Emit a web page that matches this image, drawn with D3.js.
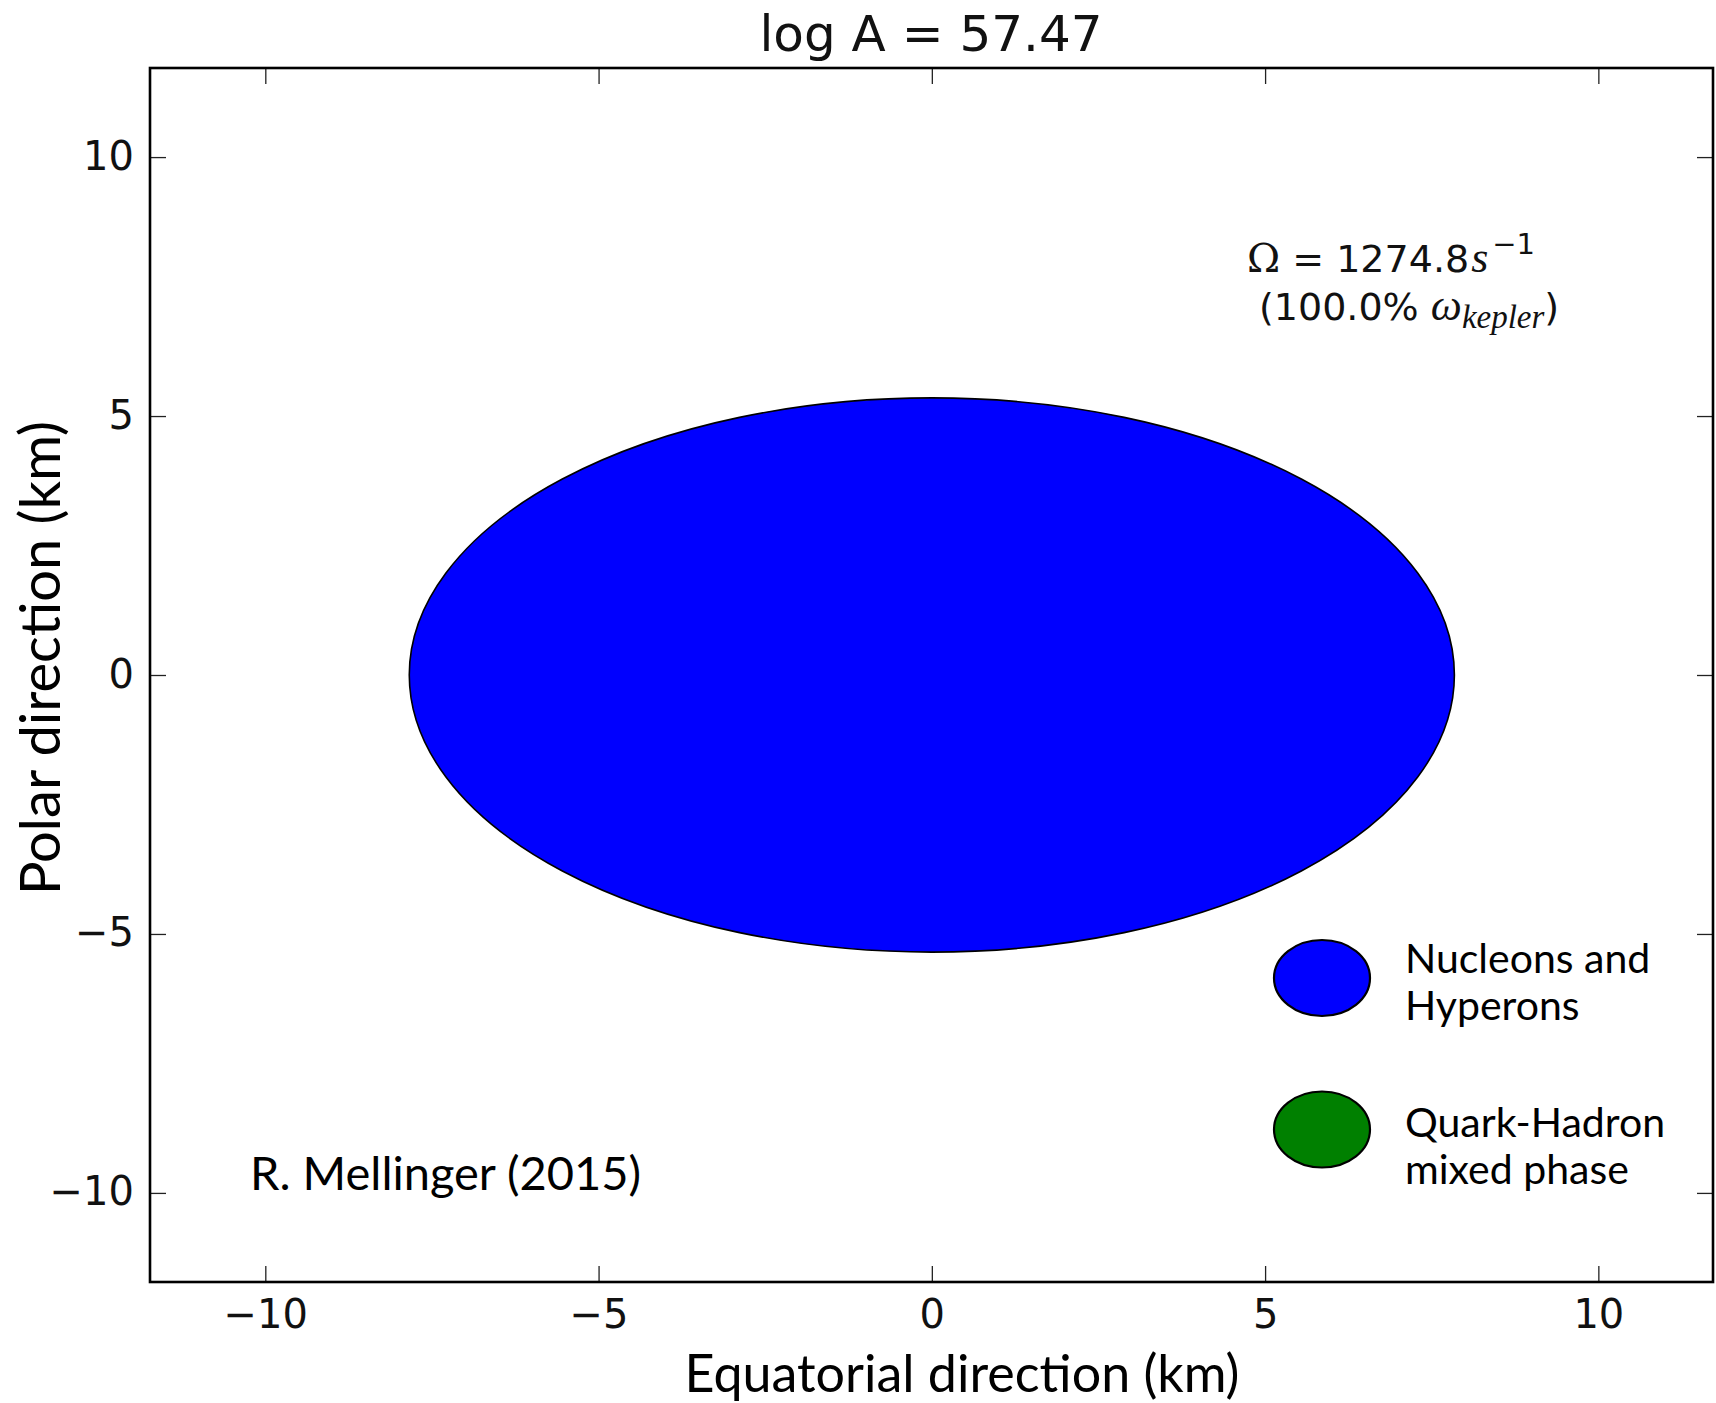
<!DOCTYPE html>
<html>
<head>
<meta charset="utf-8">
<script src="https://cdn.jsdelivr.net/npm/d3@7"></script>
<style>
  html, body { margin: 0; padding: 0; background: #fff; }
  svg { display: block; }
</style>
</head>
<body>
<svg id="chart" width="1716" height="1403"></svg>
<script>
// Star cross-section: equatorial and polar radii (km)
const phases = ["Nucleons and Hyperons"];
const equatorialRadius = [7.84];
const polarRadius = [5.35];
const phaseColors = ["#0000ff"];

// Legend entries
const legendLabels = [["Nucleons and", "Hyperons"], ["Quark-Hadron", "mixed phase"]];
const legendColors = ["#0000ff", "#008000"];

// Axis ticks and ranges (km)
const xTicks = [-10, -5, 0, 5, 10];
const yTicks = [-10, -5, 0, 5, 10];
const xDomain = [-11.73, 11.72];
const yDomain = [-11.72, 11.72];

// Annotations
const titleText = "log A = 57.47";
const omegaValue = "1274.8";
const keplerPercent = "100.0%";
const creditText = "R. Mellinger (2015)";

const svg = d3.select("#chart");
const plot = { left: 150, right: 1713, top: 68, bottom: 1282 };

const x = d3.scaleLinear().domain(xDomain).range([plot.left, plot.right]);
const y = d3.scaleLinear().domain(yDomain).range([plot.bottom, plot.top]);

const tickFont = "'DejaVu Sans', sans-serif";
const labelFont = "Lato, 'Open Sans', sans-serif";
const fmt = d => d < 0 ? "\u2212" + Math.abs(d) : String(d);

// Star shape
svg.append("g").selectAll("ellipse")
  .data(phases)
  .join("ellipse")
  .attr("cx", x(0))
  .attr("cy", y(0))
  .attr("rx", (d, i) => x(equatorialRadius[i]) - x(0))
  .attr("ry", (d, i) => y(0) - y(polarRadius[i]))
  .attr("fill", (d, i) => phaseColors[i])
  .attr("stroke", "#000")
  .attr("stroke-width", 1.6);

// Axes with inward ticks on all four sides
function styleAxis(g) {
  g.select(".domain").remove();
  g.selectAll(".tick line").attr("stroke", "#222").attr("stroke-width", 1.3);
  g.selectAll(".tick text")
    .attr("font-family", tickFont)
    .attr("font-size", 40)
    .attr("fill", "#111");
}

const bottomAxis = svg.append("g")
  .attr("transform", `translate(0,${plot.bottom})`)
  .call(d3.axisBottom(x).tickValues(xTicks).tickFormat(fmt).tickSizeInner(-16).tickSizeOuter(0).tickPadding(18))
  .call(styleAxis);
bottomAxis.selectAll(".tick text").attr("dy", "0.71em");

svg.append("g")
  .attr("transform", `translate(0,${plot.top})`)
  .call(d3.axisTop(x).tickValues(xTicks).tickFormat("").tickSizeInner(-16).tickSizeOuter(0))
  .call(styleAxis);

const leftAxis = svg.append("g")
  .attr("transform", `translate(${plot.left},0)`)
  .call(d3.axisLeft(y).tickValues(yTicks).tickFormat(fmt).tickSizeInner(-16).tickSizeOuter(0).tickPadding(16))
  .call(styleAxis);
leftAxis.selectAll(".tick text").attr("dy", "0.3em");

svg.append("g")
  .attr("transform", `translate(${plot.right},0)`)
  .call(d3.axisRight(y).tickValues(yTicks).tickFormat("").tickSizeInner(-16).tickSizeOuter(0))
  .call(styleAxis);

// Frame
svg.append("rect")
  .attr("x", plot.left).attr("y", plot.top)
  .attr("width", plot.right - plot.left)
  .attr("height", plot.bottom - plot.top)
  .attr("fill", "none")
  .attr("stroke", "#000")
  .attr("stroke-width", 2.6);

// Title
svg.append("text")
  .attr("x", 931).attr("y", 51)
  .attr("text-anchor", "middle")
  .attr("font-family", tickFont)
  .attr("font-size", 50)
  .attr("fill", "#111")
  .text(titleText);

// Axis labels
svg.append("text")
  .attr("x", 962).attr("y", 1392)
  .attr("text-anchor", "middle")
  .attr("font-family", labelFont)
  .attr("font-size", 52)
  .attr("fill", "#000")
  .text("Equatorial direction (km)");

svg.append("text")
  .attr("transform", `translate(60,${658}) rotate(-90)`)
  .attr("text-anchor", "middle")
  .attr("font-family", labelFont)
  .attr("font-size", 56)
  .attr("fill", "#000")
  .text("Polar direction (km)");

// Rotation rate annotation
const serif = "'DejaVu Serif', 'Liberation Serif', serif";
const italicSerif = "'Liberation Serif', 'DejaVu Serif', serif";
const om = svg.append("g").attr("fill", "#111").attr("font-size", 38).attr("font-family", tickFont);

const line1 = om.append("text").attr("x", 1247).attr("y", 272);
line1.append("tspan").attr("font-family", serif).attr("font-size", 40).text("\u03A9");
line1.append("tspan").text(" = " + omegaValue);
line1.append("tspan").attr("dx", 2).attr("font-family", italicSerif).attr("font-style", "italic").attr("font-size", 44).text("s");
line1.append("tspan").attr("dx", 4).attr("dy", -18).attr("font-size", 29).text("\u22121");

const line2 = om.append("text").attr("x", 1259).attr("y", 320);
line2.append("tspan").text("(" + keplerPercent + " ");
line2.append("tspan").attr("font-family", italicSerif).attr("font-style", "italic").attr("font-size", 44).text("\u03C9");
line2.append("tspan").attr("dy", 8).attr("font-family", italicSerif).attr("font-style", "italic").attr("font-size", 33).text("kepler");
line2.append("tspan").attr("dy", -8).text(")");

// Credit
svg.append("text")
  .attr("x", 250).attr("y", 1190)
  .attr("font-family", labelFont)
  .attr("font-size", 47)
  .attr("fill", "#000")
  .text(creditText);

// Legend
const legendRows = [978, 1129.5];
const legendBaselines = [973, 1137];
const legend = svg.append("g").selectAll("g")
  .data(legendLabels)
  .join("g");

legend.append("ellipse")
  .attr("cx", 1322)
  .attr("cy", (d, i) => legendRows[i])
  .attr("rx", 48).attr("ry", 38)
  .attr("fill", (d, i) => legendColors[i])
  .attr("stroke", "#000")
  .attr("stroke-width", 2.2);

legend.append("text")
  .attr("font-family", labelFont)
  .attr("font-size", 41)
  .attr("fill", "#000")
  .each(function (d, i) {
    d3.select(this).selectAll("tspan")
      .data(d)
      .join("tspan")
      .attr("x", 1405)
      .attr("y", (t, j) => legendBaselines[i] + j * 46.5)
      .text(t => t);
  });
</script>
</body>
</html>
